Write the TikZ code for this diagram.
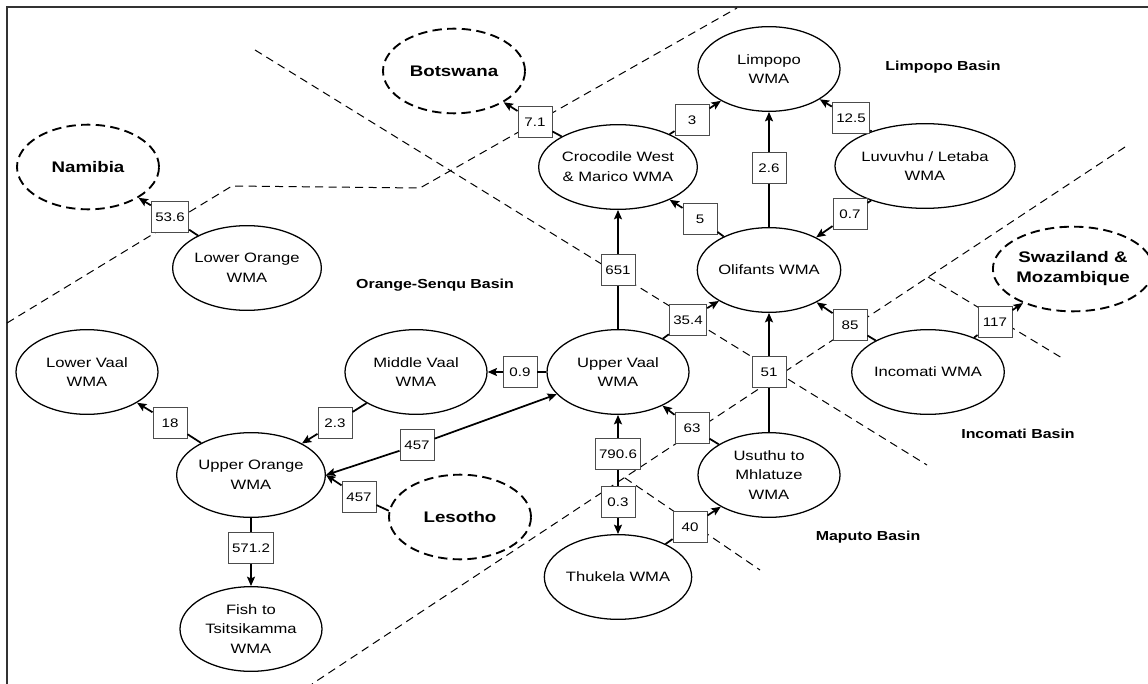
\documentclass[tikz,border=0pt]{standalone}
\usepackage{fontspec}
\newfontfamily\lab[FakeStretch=1.22]{Liberation Sans}
\usetikzlibrary{shapes.geometric,arrows.meta}
\begin{document}
\begin{tikzpicture}[x=0.75pt,y=-0.75pt,
  wma/.style={ellipse, draw, fill=white, line width=0.95pt, minimum width=106.5pt, minimum height=63.5pt,
    inner sep=0pt, align=center, font=\lab\fontsize{10.2}{14.8}\selectfont},
  cty/.style={wma, dash pattern=on 7pt off 4pt, line width=1.4pt,
    font=\lab\bfseries\fontsize{11.5}{15}\selectfont},
  val/.style={rectangle, draw=black!70, line width=0.7pt, fill=white, minimum width=25.5pt,
    minimum height=23pt, inner xsep=3pt, inner ysep=2pt, font=\lab\fontsize{9.3}{10}\selectfont},
  flow/.style={-{Stealth[length=7pt,width=6pt,inset=1.3pt]}, line width=1.3pt},
  bnd/.style={dash pattern=on 6pt off 4pt, line width=0.75pt},
  basin/.style={font=\lab\bfseries\fontsize{9.8}{12}\selectfont},
  frameline/.style={draw=black!80, line width=1.3pt}
]
\useasboundingbox (0,0) rectangle (1148,684);
\fill[white] (0,0) rectangle (1148,684);
% frame (cropped at right and bottom)
\draw[frameline] (1148,7) -- (7,7) -- (7,684);

% basin boundaries
\draw[bnd] (255,50) -- (927,465);
\draw[bnd] (7,323) -- (232,186) -- (420,188) -- (737,8);
\draw[bnd] (1125,147) -- (312,684);
\draw[bnd] (928,277) -- (1062,358);
\draw[bnd] (625,478) -- (760,570);

% basin labels
\node[basin] (lbLim) at (943,67) {Limpopo Basin};
\node[basin] (lbOra) at (435,285) {Orange-Senqu Basin};
\node[basin] (lbInc) at (1018,434) {Incomati Basin};
\node[basin] (lbMap) at (868,537) {Maputo Basin};

% countries
\node[cty] (nam) at (88,167) {Namibia};
\node[cty] (bots) at (454,71) {Botswana};
\node[cty] (swz) at (1073,269) {Swaziland \&\\Mozambique};
\node[cty] (les) at (460,517) {Lesotho};

% water management areas
\node[wma] (lo) at (247,268) {Lower Orange\\WMA};
\node[wma] (croc) at (618,167) {Crocodile West\\\& Marico WMA};
\node[wma] (lim) at (769,69) {Limpopo\\WMA};
\node[wma] (luv) at (925,166) {Luvuvhu / Letaba\\WMA};
\node[wma] (oli) at (769,270) {Olifants WMA};
\node[wma] (mv) at (416,372) {Middle Vaal\\WMA};
\node[wma] (uv) at (618,372) {Upper Vaal\\WMA};
\node[wma] (lv) at (87,372) {Lower Vaal\\WMA};
\node[wma] (inc) at (928,372) {Incomati WMA};
\node[wma] (uo) at (251,475) {Upper Orange\\WMA};
\node[wma] (usu) at (769,475) {Usuthu to\\Mhlatuze\\WMA};
\node[wma] (thu) at (618,577) {Thukela WMA};
\node[wma] (fish) at (251,629) {Fish to\\Tsitsikamma\\WMA};

% value boxes
\node[val] (b536) at (170,217) {53.6};
\node[val] (b71) at (535,122) {7.1};
\node[val] (b3) at (692,120) {3};
\node[val] (b26) at (769,168) {2.6};
\node[val] (b125) at (851,118) {12.5};
\node[val] (b07) at (850,214) {0.7};
\node[val] (b5) at (700,219) {5};
\node[val] (b651) at (618,270) {651};
\node[val] (b354) at (688,320) {35.4};
\node[val] (b51) at (769,372) {51};
\node[val] (b85) at (850,325) {85};
\node[val] (b117) at (995,322) {117};
\node[val] (b09) at (520,372) {0.9};
\node[val] (b23) at (335,423) {2.3};
\node[val] (b18) at (170,423) {18};
\node[val] (b457a) at (417,445) {457};
\node[val] (b457b) at (359,497) {457};
\node[val] (b7906) at (618,454) {790.6};
\node[val] (b03) at (618,502) {0.3};
\node[val] (b63) at (692,428) {63};
\node[val] (b40) at (690,527) {40};
\node[val] (b5712) at (251,548) {571.2};

% transfers
\draw[flow] (lo) -- (b536) -- (nam);
\draw[flow] (croc) -- (b71) -- (bots);
\draw[flow] (croc) -- (b3) -- (lim);
\draw[flow] (oli) -- (b26) -- (lim);
\draw[flow] (luv) -- (b125) -- (lim);
\draw[flow] (luv) -- (b07) -- (oli);
\draw[flow] (oli) -- (b5) -- (croc);
\draw[flow] (uv) -- (b651) -- (croc);
\draw[flow] (uv) -- (b354) -- (oli);
\draw[flow] (usu) -- (b51) -- (oli);
\draw[flow] (inc) -- (b85) -- (oli);
\draw[flow] (inc) -- (b117) -- (swz);
\draw[flow] (uv) -- (b09) -- (mv);
\draw[flow] (mv) -- (b23) -- (uo);
\draw[flow] (uo) -- (b18) -- (lv);
\draw[flow] (b457a) -- (uv);
\draw[flow] (b457a) -- (uo.east);
\draw[flow] (les.175) -- (b457b) -- (uo.east);
\draw[flow] (b03) -- (b7906) -- (uv);
\draw[flow] (b7906) -- (b03) -- (thu);
\draw[flow] (usu) -- (b63) -- (uv);
\draw[flow] (thu) -- (b40) -- (usu);
\draw[flow] (uo) -- (b5712) -- (fish);
\end{tikzpicture}
\end{document}
